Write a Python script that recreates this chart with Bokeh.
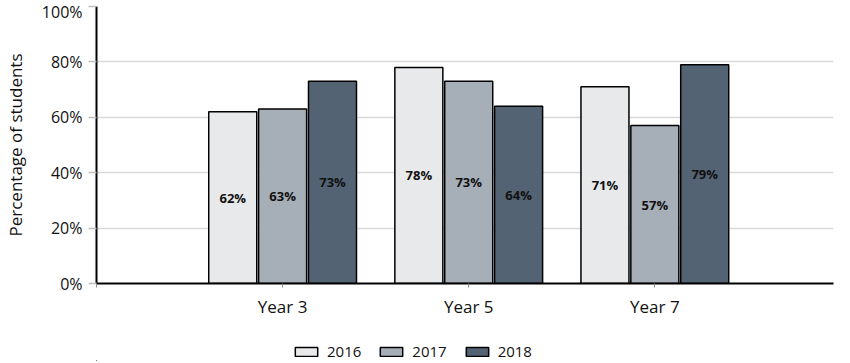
from bokeh.plotting import figure
from bokeh.layouts import column
from bokeh.models import (ColumnDataSource, Range1d, FixedTicker, PrintfTickFormatter,
                          Legend, LegendItem)
from bokeh.transform import dodge
from bokeh.embed import file_html
from bokeh.resources import INLINE
from bokeh.core.properties import value

categories = ["Year 3", "Year 5", "Year 7"]
years = ["2016", "2017", "2018"]
v2016 = [62, 78, 71]
v2017 = [63, 73, 57]
v2018 = [73, 64, 79]
y_ticks = [0, 20, 40, 60, 80, 100]

colors = ["#e8e9eb", "#a6afb8", "#536374"]
FONT = "Open Sans"

xpos = [i + 1 for i in range(len(categories))]
data = {"x": xpos}
for yr, vals in zip(years, [v2016, v2017, v2018]):
    data["v" + yr] = vals
    data["m" + yr] = [v / 2 for v in vals]
    data["t" + yr] = ["%d%%" % v for v in vals]
src = ColumnDataSource(data)

p = figure(width=834, height=325, output_backend="svg", toolbar_location=None,
           x_range=Range1d(0, 3.96), y_range=Range1d(0, 100),
           min_border_left=87, min_border_right=1, min_border_top=6, min_border_bottom=42)
p.outline_line_color = None
p.background_fill_color = "white"

offsets = [-0.268, 0.0, 0.268]
for yr, off, col in zip(years, offsets, colors):
    p.vbar(x=dodge("x", off, range=p.x_range), top="v" + yr, width=0.258, source=src,
           fill_color=col, line_color="black", line_width=1.5)
    p.text(x=dodge("x", off, range=p.x_range), y="m" + yr, text="t" + yr, source=src,
           text_align="center", text_baseline="middle", text_font=value(FONT),
           text_font_size="13px", text_font_style="bold", text_color="#111111")

p.xgrid.visible = False
p.ygrid.ticker = FixedTicker(ticks=y_ticks)
p.ygrid.grid_line_color = "#d9d9d9"
p.ygrid.grid_line_width = 1.5

ya = p.yaxis[0]
ya.ticker = FixedTicker(ticks=y_ticks)
ya.formatter = PrintfTickFormatter(format="%d%%")
ya.axis_label = "Percentage of students"
ya.axis_label_text_font = FONT
ya.axis_label_text_font_size = "17px"
ya.axis_label_text_font_style = "normal"
ya.axis_label_text_color = "#111111"
ya.axis_label_standoff = 12
ya.major_label_text_font = FONT
ya.major_label_text_font_size = "16px"
ya.major_label_text_color = "#111111"
ya.major_label_standoff = 6
ya.major_tick_in = 0
ya.major_tick_out = 8
ya.major_tick_line_color = "#bfbfbf"
ya.major_tick_line_width = 1.5
ya.minor_tick_line_color = None
ya.axis_line_color = "black"
ya.axis_line_width = 2

xa = p.xaxis[0]
xa.ticker = FixedTicker(ticks=list(range(0, len(categories) + 1)))
overrides = {0: ""}
for xi, c in zip(xpos, categories):
    overrides[xi] = c
xa.major_label_overrides = overrides
xa.major_label_text_font = FONT
xa.major_label_text_font_size = "17px"
xa.major_label_text_color = "#111111"
xa.major_label_standoff = 7
xa.major_tick_in = 0
xa.major_tick_out = 4
xa.major_tick_line_color = "#888888"
xa.minor_tick_line_color = None
xa.axis_line_color = "black"
xa.axis_line_width = 2

# legend panel below the chart (swatch renderers sit outside this panel's visible range)
lg = figure(width=834, height=36, output_backend="svg", toolbar_location=None,
            x_axis_type=None, y_axis_type=None,
            x_range=Range1d(0, 1), y_range=Range1d(0, 1),
            min_border_left=0, min_border_right=0, min_border_top=0, min_border_bottom=0)
lg.grid.visible = False
lg.outline_line_color = None
lg_src = ColumnDataSource(dict(x=[-5] * len(years), top=[-5] * len(years), year=years))
lg_items = []
for i, (yr, col) in enumerate(zip(years, colors)):
    r = lg.vbar(x="x", top="top", width=0.1, source=lg_src,
                fill_color=col, line_color="black", line_width=1.5)
    lg_items.append(LegendItem(label=yr, renderers=[r], index=i))
legend = Legend(items=lg_items, orientation="horizontal", location=(196, 0),
                glyph_width=28, glyph_height=11, label_standoff=7, spacing=16,
                label_text_font=FONT, label_text_font_size="15px", label_text_color="#111111",
                border_line_color=None, background_fill_alpha=0,
                padding=0, margin=0)
lg.add_layout(legend)

open("out.html", "w").write(file_html(column(p, lg, spacing=0), INLINE))
